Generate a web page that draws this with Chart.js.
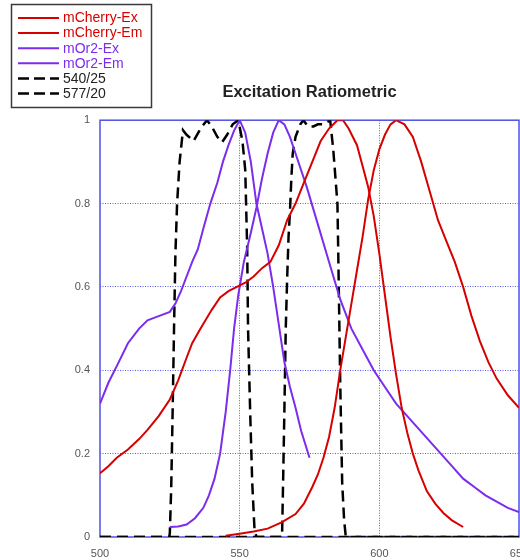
<!DOCTYPE html>
<html><head><meta charset="utf-8">
<script src="https://cdn.jsdelivr.net/npm/chart.js@4/dist/chart.umd.min.js"></script>
<style>html,body{margin:0;padding:0;overflow:hidden;background:#fff}#wrap{width:540px;height:560px;position:relative}</style>
</head><body><div id="wrap"><canvas id="c" width="540" height="560"></canvas></div>
<script>
// ---- data ----
const seriesLabels = ["mCherry-Ex", "mCherry-Em", "mOr2-Ex", "mOr2-Em", "540/25", "577/20"];

const mCherryExWl = [500,503,506,510,514,517,521,525,528,531,533,536,540,543,546,549,552,555,558,561,564,567,570,573,576,579,582,585,587,589,592,594,596,598,600,602,604,606,608,610,612,614,617,620,623,626,630];
const mCherryExVal = [0.153,0.17,0.19,0.21,0.235,0.257,0.29,0.33,0.376,0.43,0.465,0.5,0.545,0.575,0.59,0.6,0.61,0.625,0.645,0.66,0.7,0.76,0.8,0.85,0.9,0.95,0.98,1.0,1.0,0.98,0.94,0.89,0.84,0.77,0.68,0.58,0.48,0.39,0.31,0.25,0.2,0.16,0.11,0.08,0.057,0.04,0.024];

const mCherryEmWl = [545,550,555,560,565,570,573,576,578,580,582,584,586,588,590,592,594,596,598,600,602,604,606,609,612,615,618,621,624,627,630,633,636,639,642,646,650];
const mCherryEmVal = [0.003,0.008,0.013,0.02,0.035,0.055,0.08,0.12,0.15,0.19,0.24,0.31,0.4,0.48,0.56,0.64,0.72,0.81,0.88,0.93,0.965,0.99,1.0,0.99,0.96,0.9,0.83,0.76,0.71,0.66,0.6,0.53,0.47,0.42,0.38,0.34,0.31];

const mOr2ExWl = [500,503,506,510,514,517,521,525,527,529,531,533,535,537,539.5,542,544,546,548,550,552,554,556,558,560,562,564,566,568,570,572,575];
const mOr2ExVal = [0.32,0.37,0.41,0.465,0.5,0.52,0.53,0.54,0.56,0.59,0.625,0.66,0.69,0.74,0.8,0.85,0.9,0.94,0.975,1.0,0.97,0.9,0.8,0.74,0.68,0.6,0.51,0.42,0.36,0.31,0.255,0.19];

const mOr2EmWl = [525,528,531,534,537,539,541,543,545,546.6,548,549.5,551.5,554,556,558,560,562,564,566,568,570,574,578,582,586,590,594,598,602,606,610,614,618,622,626,630,634,638,642,646,650];
const mOr2EmVal = [0.024,0.025,0.03,0.045,0.07,0.1,0.14,0.2,0.3,0.4,0.5,0.58,0.66,0.73,0.79,0.86,0.92,0.97,1.0,0.99,0.96,0.92,0.84,0.75,0.66,0.57,0.5,0.45,0.4,0.36,0.32,0.29,0.26,0.23,0.2,0.17,0.14,0.12,0.1,0.085,0.07,0.06];

const f540Wl = [500,524.8,525,525.5,526,526.5,527,527.6,528.5,529.7,531,533.5,536,538.3,540,542,543.7,545.5,547.5,549.5,551,552,552.7,553,553.8,554.5,555.3,556,650];
const f540Val = [0,0,0.01,0.12,0.3,0.5,0.68,0.8,0.9,0.976,0.965,0.95,0.98,1.0,0.985,0.96,0.947,0.965,0.99,1.0,0.95,0.88,0.69,0.5,0.29,0.13,0.02,0,0];

const f577Wl = [500,565,565.2,565.6,566,566.5,567,567.5,568,568.5,569,570,571.7,572.8,574.5,576.4,578,580,582.4,583.5,585,585.3,586,586.7,587.4,588,650];
const f577Val = [0,0,0.01,0.15,0.3,0.5,0.62,0.72,0.78,0.86,0.92,0.96,0.99,1.0,0.985,0.985,0.99,0.99,1.0,0.93,0.8,0.68,0.37,0.13,0.04,0,0];

const xTickMin = 500, xTickMax = 650, xTickStep = 50;
const yTickMin = 0, yTickMax = 1, yTickStep = 0.2;
const titleText = "Excitation Ratiometric";

// ---- styles ----
const RED = "#d60000", PURPLE = "#7b2cec", BLACK = "#000000";
const GRID = "rgba(70,70,235,0.9)";
const FONT = "'Liberation Sans', Arial, Helvetica, sans-serif";

function pts(w, v){ return w.map((x,i)=>({x:x, y:v[i]})); }

const datasets = [
  {label: seriesLabels[0], data: pts(mCherryExWl, mCherryExVal), borderColor: RED, textColor: RED, borderWidth: 2},
  {label: seriesLabels[1], data: pts(mCherryEmWl, mCherryEmVal), borderColor: RED, textColor: RED, borderWidth: 2},
  {label: seriesLabels[2], data: pts(mOr2ExWl, mOr2ExVal), borderColor: PURPLE, textColor: PURPLE, borderWidth: 2},
  {label: seriesLabels[3], data: pts(mOr2EmWl, mOr2EmVal), borderColor: PURPLE, textColor: PURPLE, borderWidth: 2},
  {label: seriesLabels[4], data: pts(f540Wl, f540Val), borderColor: BLACK, textColor: "#222", borderWidth: 2.5, borderDash: [11,6]},
  {label: seriesLabels[5], data: pts(f577Wl, f577Val), borderColor: BLACK, textColor: "#222", borderWidth: 2.5, borderDash: [11,6]}
].map(d => Object.assign({pointRadius: 0, tension: 0, fill: false}, d));

const framePlugin = {
  id: 'frame',
  beforeDatasetsDraw(chart){
    const a = chart.chartArea, ctx = chart.ctx;
    ctx.save();
    ctx.strokeStyle = "#5050e6";
    ctx.lineWidth = 1.5;
    ctx.strokeRect(a.left, a.top, a.right - a.left, a.bottom - a.top);
    ctx.restore();
  }
};

const legendPlugin = {
  id: 'boxLegend',
  afterDraw(chart){
    const ctx = chart.ctx;
    ctx.save();
    ctx.strokeStyle = "#3a3a3a";
    ctx.lineWidth = 1.5;
    ctx.strokeRect(11.5, 4.5, 140, 103);
    ctx.font = "14px " + FONT;
    ctx.textBaseline = "middle";
    chart.data.datasets.forEach((d, i) => {
      const y = 18 + i * 15.1;
      ctx.beginPath();
      ctx.setLineDash(d.borderDash ? [11,5] : []);
      ctx.strokeStyle = d.borderColor;
      ctx.lineWidth = d.borderWidth;
      ctx.moveTo(18, y); ctx.lineTo(59, y);
      ctx.stroke();
      ctx.setLineDash([]);
      ctx.fillStyle = d.textColor;
      ctx.fillText(d.label, 63, y + 0.5);
    });
    ctx.restore();
  }
};

function gridColor(min, max){
  return (c) => {
    const v = c.tick ? c.tick.value : null;
    if (v === null || Math.abs(v - min) < 1e-9 || Math.abs(v - max) < 1e-9) return "rgba(0,0,0,0)";
    return GRID;
  };
}

new Chart(document.getElementById('c'), {
  type: 'line',
  data: {datasets: datasets},
  options: {
    responsive: false,
    animation: false,
    layout: {padding: {left: 0, right: 21, top: 0, bottom: 0}},
    plugins: {
      legend: {display: false},
      tooltip: {enabled: false},
      title: {
        display: true, text: titleText, fullSize: false,
        color: "#222",
        font: {family: FONT, size: 16.5, weight: 'bold'},
        padding: {top: 83, bottom: 17.4}
      }
    },
    scales: {
      x: {
        type: 'linear', min: xTickMin, max: xTickMax,
        ticks: {stepSize: xTickStep, color: "#555", font: {family: FONT, size: 11}, padding: 10, maxRotation: 0},
        grid: {color: gridColor(xTickMin, xTickMax), lineWidth: 1, drawTicks: false},
        border: {display: false, dash: [1,1.5]},
        afterFit(s){ s.height = 23; }
      },
      y: {
        type: 'linear', min: yTickMin, max: yTickMax,
        ticks: {stepSize: yTickStep, color: "#555", font: {family: FONT, size: 11}, padding: 10,
                callback: (v) => String(parseFloat(Number(v).toFixed(1)))},
        grid: {color: gridColor(yTickMin, yTickMax), lineWidth: 1, drawTicks: false},
        border: {display: false, dash: [1,1.5]},
        afterFit(s){ s.width = 100; }
      }
    }
  },
  plugins: [framePlugin, legendPlugin]
});
</script></body></html>
